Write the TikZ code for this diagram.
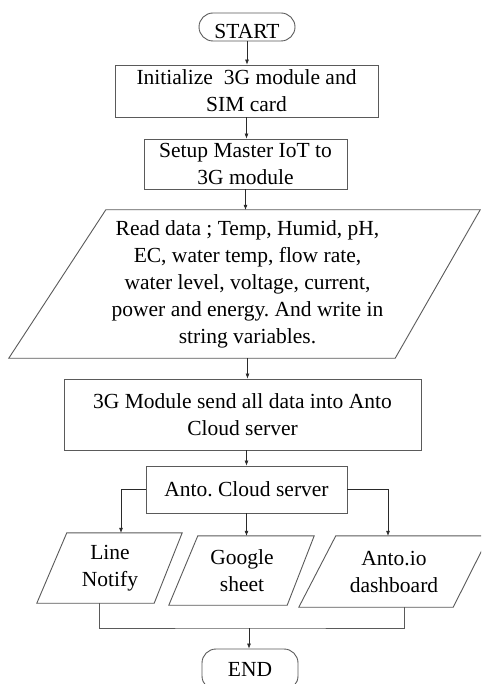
\documentclass[tikz,border=0pt]{standalone}
\usepackage{fontspec}
\setmainfont{Liberation Serif}
\usetikzlibrary{arrows.meta}
\definecolor{boxgray}{HTML}{5A5A5A}
\definecolor{arrgray}{HTML}{2A2A2A}
\newcommand\fsz{\fontsize{21.5}{27}\selectfont\frenchspacing}
\begin{document}
\begin{tikzpicture}[x=1pt,y=-1pt,
  box/.style={draw=boxgray, line width=0.9pt, align=center, inner sep=0pt, font=\fsz},
  term/.style={box, rounded corners=14pt},
  txt/.style={align=center, inner sep=0pt, font=\fsz},
  para/.style={draw=boxgray, line width=0.9pt},
  arr/.style={draw=arrgray, line width=0.6pt, -{Latex[length=5pt,width=4pt]}},
  link/.style={draw=boxgray, line width=0.8pt}]
\clip (0,0) rectangle (481,684);
\fill[white] (0,0) rectangle (481,684);

\node[term, minimum width=96, minimum height=28, text height=23pt, text depth=0pt] (start) at (247,27) {START};
\node[box, minimum width=263, minimum height=52] (init) at (246.5,91) {Initialize\hspace{11pt}3G module and\\SIM card};
\node[box, minimum width=203, minimum height=50] (setup) at (245.5,164) {Setup Master IoT to\\3G module};
\node[txt, minimum width=380, minimum height=148] (read) at (247.5,284) {Read data ; Temp, Humid, pH,\\EC, water temp, flow rate,\\water level, voltage, current,\\power and energy. And write in\\string variables.};
\draw[para] ([xshift=48.5]read.north west) -- ([xshift=42.5]read.north east) -- ([xshift=-42.5]read.south east) -- ([xshift=-48.5]read.south west) -- cycle;
\node[box, minimum width=357, minimum height=71] (send) at (242.5,414.5) {3G Module send all data into Anto\\Cloud server};
\node[box, minimum width=201, minimum height=47] (anto) at (246.5,489.5) {Anto. Cloud server};

\node[txt, minimum width=116, minimum height=70] (line) at (110,568) {Line\\Notify};
\draw[para] ([xshift=15]line.north west) -- ([xshift=14]line.north east) -- ([xshift=-14]line.south east) -- ([xshift=-15]line.south west) -- cycle;
\node[txt, minimum width=117, minimum height=69] (google) at (242,570.5) {Google\\sheet};
\draw[para] ([xshift=14.5]google.north west) -- ([xshift=13.5]google.north east) -- ([xshift=-13.5]google.south east) -- ([xshift=-14.5]google.south west) -- cycle;
\node[txt, minimum width=154, minimum height=71] (dash) at (394,571.5) {Anto.io\\dashboard};
\draw[para] ([xshift=19]dash.north west) -- ([xshift=18]dash.north east) -- ([xshift=-18]dash.south east) -- ([xshift=-18]dash.south west) -- cycle;

\node[term, minimum width=96, minimum height=41] (end) at (250,669.5) {END};

\draw[arr] (start.south) -- (start.south |- init.north);
\draw[arr] (init.south) -- (init.south |- setup.north);
\draw[arr] (setup.south) -- (setup.south |- read.north);
\draw[arr] (read.south) -- (read.south |- send.north);
\draw[arr] (send.south -| anto.north) -- (anto.north);
\draw[arr] (anto.west) -| ([xshift=11]line.north);
\draw[arr] (anto.south) -- (anto.south |- google.north);
\draw[arr] (anto.east) -| ([xshift=-6]dash.north);
\coordinate (merge) at (249,628);
\draw[link] ([xshift=-11]line.south) |- (merge) -| ([xshift=10]dash.south);
\draw[arr] (merge) -- (end.north -| merge);
\end{tikzpicture}
\end{document}
